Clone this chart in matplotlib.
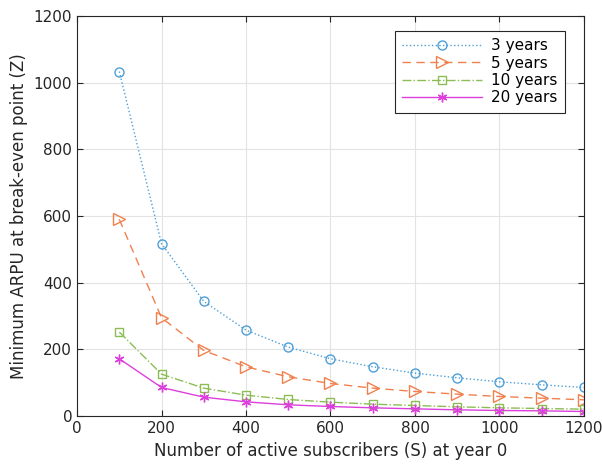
import numpy as np
import matplotlib.pyplot as plt

# -----------------------------
# Data
# -----------------------------
subscribers = [100, 200, 300, 400, 500, 600, 700, 800, 900, 1000, 1100, 1200]
arpu_3y = [1033, 517, 344, 258, 207, 172, 148, 129, 115, 103, 94, 86]
arpu_5y = [590, 295, 197, 148, 118, 98, 84, 74, 66, 59, 54, 49]
arpu_10y = [252, 126, 84, 63, 50, 42, 36, 32, 28, 25, 23, 21]
arpu_20y = [172, 86, 57, 43, 34, 29, 25, 22, 19, 17, 16, 14]
labels = ["3 years", "5 years", "10 years", "20 years"]

x_ticks = [0, 200, 400, 600, 800, 1000, 1200]
y_ticks = [0, 200, 400, 600, 800, 1000, 1200]

text_col = "#262626"

fig = plt.figure(figsize=(6.02, 4.65), dpi=100)
ax = fig.add_axes([0.128, 0.105, 0.842, 0.861])

ax.plot(subscribers, arpu_3y, linestyle=":", marker="o", color="#4d9fd8",
        markerfacecolor="none", markersize=6.5, linewidth=1, label=labels[0])
ax.plot(subscribers, arpu_5y, linestyle=(0, (6, 4)), marker=">", color="#f0804e",
        markerfacecolor="none", markersize=8, linewidth=1, label=labels[1])
ax.plot(subscribers, arpu_10y, linestyle="-.", marker="s", color="#8cbd55",
        markerfacecolor="none", markersize=5.5, linewidth=1, label=labels[2])
ax.plot(subscribers, arpu_20y, linestyle="-", marker=(6, 2, 0), color="#dc3fdc",
        markersize=7, linewidth=1, label=labels[3])

ax.set_xlim(0, 1200)
ax.set_ylim(0, 1200)
ax.set_xticks(x_ticks)
ax.set_yticks(y_ticks)
ax.grid(True, color="#e3e3e3", linewidth=0.8)
ax.set_axisbelow(True)
ax.tick_params(direction="in", top=True, right=True, labelsize=11,
               colors=text_col, length=4)
for s in ax.spines.values():
    s.set_color(text_col)
    s.set_linewidth(0.8)

ax.set_xlabel("Number of active subscribers (S) at year 0", fontsize=12, color=text_col)
ax.set_ylabel("Minimum ARPU at break-even point (Z)", fontsize=12, color=text_col)

leg = ax.legend(loc="upper right", bbox_to_anchor=(0.9625, 0.9625), borderaxespad=0,
                fontsize=11, fancybox=False, edgecolor=text_col, framealpha=1,
                handlelength=5.2, borderpad=0.5, labelspacing=0.15, handletextpad=0.6)
leg.get_frame().set_linewidth(0.8)

fig.savefig("out.png", dpi=100)
